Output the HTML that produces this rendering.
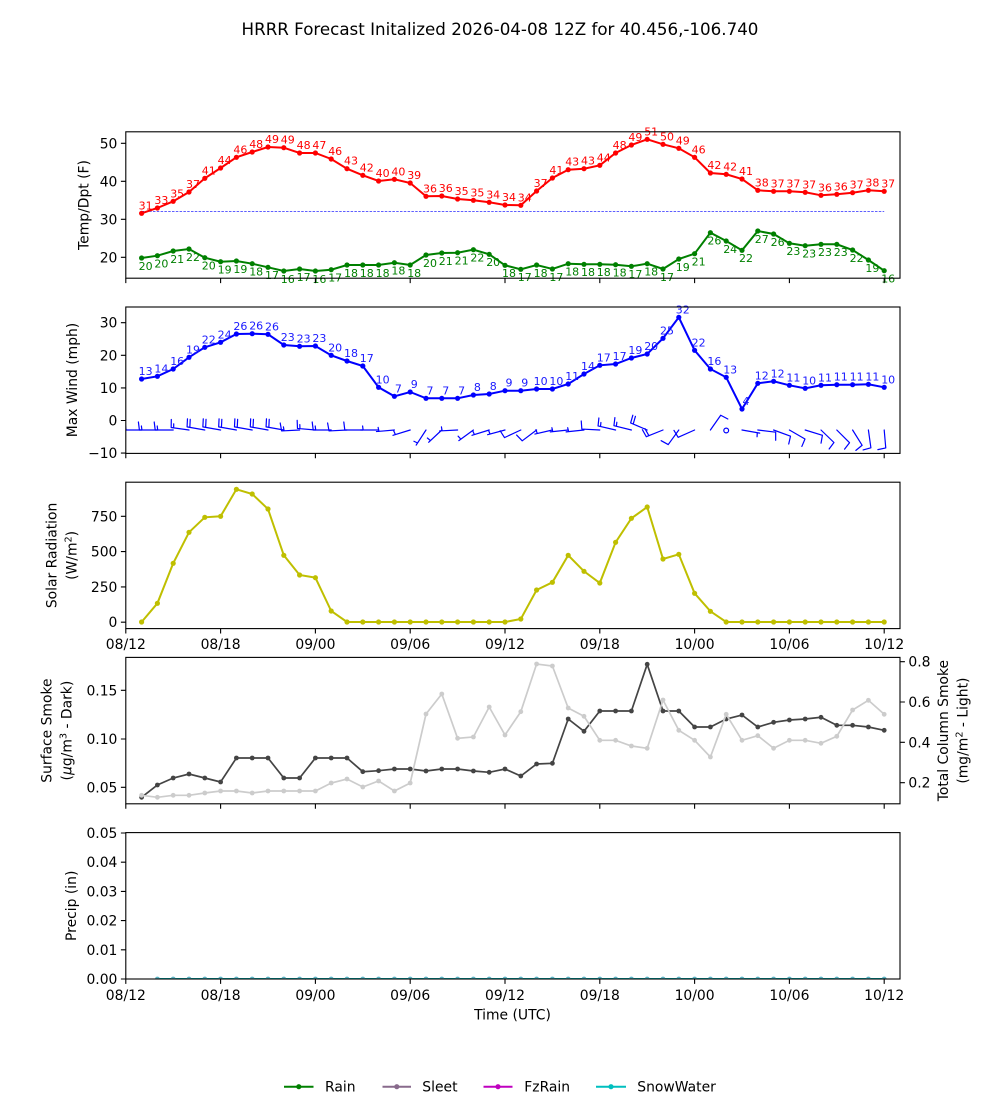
<!DOCTYPE html>
<html><head><meta charset="utf-8"><style>
html,body{margin:0;padding:0;background:#fff;}
svg{display:block;font-family:"DejaVu Sans","Liberation Sans",sans-serif;}
</style></head><body>
<svg width="1000" height="1100" viewBox="0 0 1000 1100" xmlns="http://www.w3.org/2000/svg">
<defs>
<marker id="mr" viewBox="-3 -3 6 6" markerWidth="6" markerHeight="6" markerUnits="userSpaceOnUse"><circle r="2.6" fill="#ff0000"/></marker>
<marker id="mg" viewBox="-3 -3 6 6" markerWidth="6" markerHeight="6" markerUnits="userSpaceOnUse"><circle r="2.6" fill="#008000"/></marker>
<marker id="mb" viewBox="-3 -3 6 6" markerWidth="6" markerHeight="6" markerUnits="userSpaceOnUse"><circle r="2.6" fill="#0000ff"/></marker>
<marker id="my" viewBox="-3 -3 6 6" markerWidth="6" markerHeight="6" markerUnits="userSpaceOnUse"><circle r="2.6" fill="#bfbf00"/></marker>
<marker id="md" viewBox="-3 -3 6 6" markerWidth="6" markerHeight="6" markerUnits="userSpaceOnUse"><circle r="2.4" fill="#444444"/></marker>
<marker id="ml" viewBox="-3 -3 6 6" markerWidth="6" markerHeight="6" markerUnits="userSpaceOnUse"><circle r="2.4" fill="#cccccc"/></marker>
<marker id="mc" viewBox="-3 -3 6 6" markerWidth="6" markerHeight="6" markerUnits="userSpaceOnUse"><circle r="2.4" fill="#5ab4c4"/></marker>
<clipPath id="c2"><rect x="125.8" y="307" width="774.2" height="146.4"/></clipPath>
<clipPath id="c5"><rect x="125.8" y="832.6" width="774.2" height="146.4"/></clipPath>
</defs>
<rect width="1000" height="1100" fill="#fff"/>

<text x="500" y="35" font-size="16.7" text-anchor="middle" fill="#000">HRRR Forecast Initalized 2026-04-08 12Z for 40.456,-106.740</text>

<!-- ================= PANEL 1 ================= -->
<line x1="141.6" y1="211.4" x2="884.2" y2="211.4" stroke="#2a2aff" stroke-width="0.8" stroke-dasharray="2.5,1.3"/>
<polyline fill="none" stroke="#ff0000" stroke-width="2" marker-start="url(#mr)" marker-mid="url(#mr)" marker-end="url(#mr)" points="141.6,213.3 157.4,208 173.2,201.3 189,192 204.8,178.3 220.6,168 236.4,157.3 252.2,152 268,147 283.8,147.7 299.6,153 315.4,153 331.2,159 347,168.7 362.8,175.3 378.6,181 394.4,179.3 410.2,183 426,196.3 441.8,196 457.6,199 473.4,200.3 489.2,202.3 505,205 520.8,205.3 536.6,191 552.4,178 568.2,169.7 584,168.7 599.8,165.3 615.6,153 631.4,145 647.2,139.3 663,144.3 678.8,148.3 694.6,157.3 710.4,173 726.2,174.3 742,179 757.8,190.3 773.6,191.3 789.4,191.3 805.2,192.3 821,195.3 836.8,194.3 852.6,192.7 868.4,190.3 884.2,191.3"/>
<polyline fill="none" stroke="#008000" stroke-width="2" marker-start="url(#mg)" marker-mid="url(#mg)" marker-end="url(#mg)" points="141.6,258 157.4,255.7 173.2,251 189,249 204.8,257.7 220.6,261.7 236.4,261 252.2,263.7 268,267.3 283.8,271 299.6,269 315.4,271 331.2,269.7 347,265 362.8,265 378.6,265 394.4,262.7 410.2,265 426,255 441.8,253 457.6,252.7 473.4,249.7 489.2,254.3 505,265.3 520.8,269.3 536.6,265 552.4,269 568.2,263.7 584,264.3 599.8,264.3 615.6,264.7 631.4,266.3 647.2,263.7 663,269 678.8,259 694.6,253.7 710.4,232.7 726.2,241 742,250.3 757.8,231 773.6,234 789.4,243.3 805.2,245.7 821,244.3 836.8,244.3 852.6,250 868.4,260 884.2,270.7"/>
<g font-size="11" fill="#ff0000" text-anchor="middle">
<text x="145.6" y="209.3">31</text><text x="161.4" y="204">33</text><text x="177.2" y="197.3">35</text><text x="193" y="188">37</text><text x="208.8" y="174.3">41</text><text x="224.6" y="164">44</text><text x="240.4" y="153.3">46</text><text x="256.2" y="148">48</text><text x="272" y="143">49</text><text x="287.8" y="143.7">49</text><text x="303.6" y="149">48</text><text x="319.4" y="149">47</text><text x="335.2" y="155">46</text><text x="351" y="164.7">43</text><text x="366.8" y="171.3">42</text><text x="382.6" y="177">40</text><text x="398.4" y="175.3">40</text><text x="414.2" y="179">39</text><text x="430" y="192.3">36</text><text x="445.8" y="192">36</text><text x="461.6" y="195">35</text><text x="477.4" y="196.3">35</text><text x="493.2" y="198.3">34</text><text x="509" y="201">34</text><text x="524.8" y="201.3">34</text><text x="540.6" y="187">37</text><text x="556.4" y="174">41</text><text x="572.2" y="165.7">43</text><text x="588" y="164.7">43</text><text x="603.8" y="161.3">44</text><text x="619.6" y="149">48</text><text x="635.4" y="141">49</text><text x="651.2" y="135.3">51</text><text x="667" y="140.3">50</text><text x="682.8" y="144.3">49</text><text x="698.6" y="153.3">46</text><text x="714.4" y="169">42</text><text x="730.2" y="170.3">42</text><text x="746" y="175">41</text><text x="761.8" y="186.3">38</text><text x="777.6" y="187.3">37</text><text x="793.4" y="187.3">37</text><text x="809.2" y="188.3">37</text><text x="825" y="191.3">36</text><text x="840.8" y="190.3">36</text><text x="856.6" y="188.7">37</text><text x="872.4" y="186.3">38</text><text x="888.2" y="187.3">37</text>
</g>
<g font-size="11" fill="#008000" text-anchor="middle">
<text x="145.6" y="269.8">20</text><text x="161.4" y="267.5">20</text><text x="177.2" y="262.8">21</text><text x="193" y="260.8">22</text><text x="208.8" y="269.5">20</text><text x="224.6" y="273.5">19</text><text x="240.4" y="272.8">19</text><text x="256.2" y="275.5">18</text><text x="272" y="279.1">17</text><text x="287.8" y="282.8">16</text><text x="303.6" y="280.8">17</text><text x="319.4" y="282.8">16</text><text x="335.2" y="281.5">17</text><text x="351" y="276.8">18</text><text x="366.8" y="276.8">18</text><text x="382.6" y="276.8">18</text><text x="398.4" y="274.5">18</text><text x="414.2" y="276.8">18</text><text x="430" y="266.8">20</text><text x="445.8" y="264.8">21</text><text x="461.6" y="264.5">21</text><text x="477.4" y="261.5">22</text><text x="493.2" y="266.1">20</text><text x="509" y="277.1">18</text><text x="524.8" y="281.1">17</text><text x="540.6" y="276.8">18</text><text x="556.4" y="280.8">17</text><text x="572.2" y="275.5">18</text><text x="588" y="276.1">18</text><text x="603.8" y="276.1">18</text><text x="619.6" y="276.5">18</text><text x="635.4" y="278.1">17</text><text x="651.2" y="275.5">18</text><text x="667" y="280.8">17</text><text x="682.8" y="270.8">19</text><text x="698.6" y="265.5">21</text><text x="714.4" y="244.5">26</text><text x="730.2" y="252.8">24</text><text x="746" y="262.1">22</text><text x="761.8" y="242.8">27</text><text x="777.6" y="245.8">26</text><text x="793.4" y="255.1">23</text><text x="809.2" y="257.5">23</text><text x="825" y="256.1">23</text><text x="840.8" y="256.1">23</text><text x="856.6" y="261.8">22</text><text x="872.4" y="271.8">19</text><text x="888.2" y="282.5">16</text>
</g>
<rect x="125.8" y="131.8" width="774.2" height="146.4" fill="none" stroke="#000" stroke-width="1.1"/>
<path stroke="#000" stroke-width="1.1" d="M125.8 278.2v4.9M220.6 278.2v4.9M315.4 278.2v4.9M410.2 278.2v4.9M505 278.2v4.9M599.8 278.2v4.9M694.6 278.2v4.9M789.4 278.2v4.9M884.2 278.2v4.9M120.9 257.3h4.9M120.9 219.3h4.9M120.9 181.3h4.9M120.9 143.3h4.9"/>
<g font-size="13.9" text-anchor="end" fill="#000">
<text x="117.4" y="262.3">20</text><text x="117.4" y="224.3">30</text><text x="117.4" y="186.3">40</text><text x="117.4" y="148.3">50</text>
</g>
<text transform="translate(88.6,205) rotate(-90)" font-size="13.9" text-anchor="middle">Temp/Dpt (F)</text>

<!-- ================= PANEL 2 ================= -->
<polyline fill="none" stroke="#0000ff" stroke-width="2" marker-start="url(#mb)" marker-mid="url(#mb)" marker-end="url(#mb)" points="141.6,379 157.4,376.3 173.2,369 189,357.3 204.8,347.3 220.6,342.3 236.4,334 252.2,333.7 268,334.3 283.8,345 299.6,346.3 315.4,346 331.2,355.3 347,361 362.8,366 378.6,387.3 394.4,396.3 410.2,392 426,398.3 441.8,398.3 457.6,398.3 473.4,395 489.2,394 505,390.7 520.8,390.7 536.6,389 552.4,389 568.2,384 584,374 599.8,365.3 615.6,364 631.4,358 647.2,354 663,338.3 678.8,317.3 694.6,350.3 710.4,369 726.2,377.3 742,409 757.8,383.3 773.6,381.3 789.4,385.3 805.2,388.3 821,385.3 836.8,384.7 852.6,384.7 868.4,384.3 884.2,387.3"/>
<g font-size="11" fill="#1a1aff" text-anchor="middle">
<text x="145.6" y="375">13</text><text x="161.4" y="372.3">14</text><text x="177.2" y="365">16</text><text x="193" y="353.3">19</text><text x="208.8" y="343.3">22</text><text x="224.6" y="338.3">24</text><text x="240.4" y="330">26</text><text x="256.2" y="329.7">26</text><text x="272" y="330.3">26</text><text x="287.8" y="341">23</text><text x="303.6" y="342.3">23</text><text x="319.4" y="342">23</text><text x="335.2" y="351.3">20</text><text x="351" y="357">18</text><text x="366.8" y="362">17</text><text x="382.6" y="383.3">10</text><text x="398.4" y="392.3">7</text><text x="414.2" y="388">9</text><text x="430" y="394.3">7</text><text x="445.8" y="394.3">7</text><text x="461.6" y="394.3">7</text><text x="477.4" y="391">8</text><text x="493.2" y="390">8</text><text x="509" y="386.7">9</text><text x="524.8" y="386.7">9</text><text x="540.6" y="385">10</text><text x="556.4" y="385">10</text><text x="572.2" y="380">11</text><text x="588" y="370">14</text><text x="603.8" y="361.3">17</text><text x="619.6" y="360">17</text><text x="635.4" y="354">19</text><text x="651.2" y="350">20</text><text x="667" y="334.3">25</text><text x="682.8" y="313.3">32</text><text x="698.6" y="346.3">22</text><text x="714.4" y="365">16</text><text x="730.2" y="373.3">13</text><text x="746" y="405">4</text><text x="761.8" y="379.3">12</text><text x="777.6" y="377.3">12</text><text x="793.4" y="381.3">11</text><text x="809.2" y="384.3">10</text><text x="825" y="381.3">11</text><text x="840.8" y="380.7">11</text><text x="856.6" y="380.7">11</text><text x="872.4" y="380.3">11</text><text x="888.2" y="383.3">10</text>
</g>
<g clip-path="url(#c2)" fill="none" stroke="#0000ff" stroke-width="1.2" stroke-linecap="round">
<path transform="translate(141.6,430) rotate(0)" d="M0 0H-18M-18 0L-19 -8M-15.5 0L-16 -4"/>
<path transform="translate(157.4,430) rotate(0)" d="M0 0H-18M-18 0L-19 -8M-15.5 0L-16 -4"/>
<path transform="translate(173.2,430) rotate(0)" d="M0 0H-18M-18 0L-19 -8M-15.5 0L-16 -4"/>
<path transform="translate(189,430) rotate(8)" d="M0 0H-18M-18 0L-19 -8M-15.5 0L-16 -4"/>
<path transform="translate(204.8,430) rotate(10)" d="M0 0H-18M-18 0L-19 -8M-15.2 0L-16.2 -8"/>
<path transform="translate(220.6,430) rotate(10)" d="M0 0H-18M-18 0L-19 -8M-15.2 0L-16.2 -8"/>
<path transform="translate(236.4,430) rotate(10)" d="M0 0H-18M-18 0L-19 -8M-15.2 0L-16.2 -8"/>
<path transform="translate(252.2,430) rotate(10)" d="M0 0H-18M-18 0L-19 -8M-15.2 0L-16.2 -8"/>
<path transform="translate(268,430) rotate(10)" d="M0 0H-18M-18 0L-19 -8M-15.2 0L-16.2 -8"/>
<path transform="translate(283.8,430) rotate(10)" d="M0 0H-18M-18 0L-19 -8M-15.2 0L-16.2 -8"/>
<path transform="translate(299.6,430) rotate(-3)" d="M0 0H-18M-18 0L-19 -8M-15.5 0L-16 -4"/>
<path transform="translate(315.4,430) rotate(5)" d="M0 0H-18M-18 0L-19 -8M-15.5 0L-16 -4"/>
<path transform="translate(331.2,430) rotate(0)" d="M0 0H-18M-18 0L-19 -8M-15.5 0L-16 -4"/>
<path transform="translate(347,430) rotate(-3)" d="M0 0H-18M-18 0L-19 -8"/>
<path transform="translate(362.8,430) rotate(0)" d="M0 0H-18M-18 0L-19 -8"/>
<path transform="translate(378.6,430) rotate(0)" d="M0 0H-18M-15.5 0L-16 -4"/>
<path transform="translate(394.4,430) rotate(-5)" d="M0 0H-18M-15.5 0L-16 -4"/>
<path transform="translate(410.2,430) rotate(-17)" d="M0 0H-18M-15.5 0L-16 -4"/>
<path transform="translate(426,430) rotate(-57)" d="M0 0H-18M-15.5 0L-16 -4"/>
<path transform="translate(441.8,430) rotate(-43)" d="M0 0H-18M-15.5 0L-16 -4"/>
<path transform="translate(457.6,430) rotate(-3)" d="M0 0H-18M-15.5 0L-16 -4"/>
<path transform="translate(473.4,430) rotate(-36)" d="M0 0H-18M-15.5 0L-16 -4"/>
<path transform="translate(489.2,430) rotate(-17)" d="M0 0H-18M-15.5 0L-16 -4"/>
<path transform="translate(505,430) rotate(-15)" d="M0 0H-18M-15.5 0L-16 -4"/>
<path transform="translate(520.8,430) rotate(-25)" d="M0 0H-18M-18 0L-19 -8"/>
<path transform="translate(536.6,430) rotate(-37)" d="M0 0H-18M-18 0L-19 -8"/>
<path transform="translate(552.4,430) rotate(-13)" d="M0 0H-18M-15.5 0L-16 -4"/>
<path transform="translate(568.2,430) rotate(-6)" d="M0 0H-18M-15.5 0L-16 -4"/>
<path transform="translate(584,430) rotate(-6)" d="M0 0H-18M-15.5 0L-16 -4"/>
<path transform="translate(599.8,430) rotate(3)" d="M0 0H-18M-18 0L-19 -8"/>
<path transform="translate(615.6,430) rotate(13)" d="M0 0H-18M-18 0L-19 -8M-15.5 0L-16 -4"/>
<path transform="translate(631.4,430) rotate(14)" d="M0 0H-18M-18 0L-19 -8M-15.5 0L-16 -4"/>
<path transform="translate(647.2,430) rotate(23)" d="M0 0H-18M-18 0L-19 -8M-15.2 0L-16.2 -8"/>
<path transform="translate(663,430) rotate(-22)" d="M0 0H-18M-18 0L-19 -8M-15.2 0L-16.2 -8"/>
<path transform="translate(678.8,430) rotate(-54)" d="M0 0H-18M-18 0L-19 -8"/>
<path transform="translate(694.6,430) rotate(-24)" d="M0 0H-18M-18 0L-19 -8"/>
<path transform="translate(710.4,430) rotate(125)" d="M0 0H-18M-18 0L-19 -8"/>
<circle cx="726.2" cy="430.5" r="2.4"/>
<path transform="translate(742,430) rotate(-170)" d="M0 0H-18M-15.5 0L-16 -4"/>
<path transform="translate(757.8,430) rotate(-173)" d="M0 0H-18M-18 0L-19 -8"/>
<path transform="translate(773.6,430) rotate(-160)" d="M0 0H-18M-18 0L-19 -8"/>
<path transform="translate(789.4,430) rotate(-150)" d="M0 0H-18M-18 0L-19 -8"/>
<path transform="translate(805.2,430) rotate(-163)" d="M0 0H-18M-18 0L-19 -8"/>
<path transform="translate(821,430) rotate(-136)" d="M0 0H-18M-18 0L-19 -8"/>
<path transform="translate(836.8,430) rotate(-135)" d="M0 0H-18M-18 0L-19 -8"/>
<path transform="translate(852.6,430) rotate(-122)" d="M0 0H-18M-18 0L-19 -8"/>
<path transform="translate(868.4,430) rotate(-98)" d="M0 0H-18M-18 0L-19 -8"/>
<path transform="translate(884.2,430) rotate(-95)" d="M0 0H-18M-18 0L-19 -8"/>
</g>
<rect x="125.8" y="307" width="774.2" height="146.4" fill="none" stroke="#000" stroke-width="1.1"/>
<path stroke="#000" stroke-width="1.1" d="M125.8 453.4v4.9M220.6 453.4v4.9M315.4 453.4v4.9M410.2 453.4v4.9M505 453.4v4.9M599.8 453.4v4.9M694.6 453.4v4.9M789.4 453.4v4.9M884.2 453.4v4.9M120.9 322.7h4.9M120.9 355.3h4.9M120.9 387.9h4.9M120.9 420.5h4.9M120.9 453.1h4.9"/>
<g font-size="13.9" text-anchor="end" fill="#000">
<text x="117.4" y="327.7">30</text><text x="117.4" y="360.3">20</text><text x="117.4" y="392.9">10</text><text x="117.4" y="425.5">0</text><text x="117.4" y="458.1">−10</text>
</g>
<text transform="translate(77,380) rotate(-90)" font-size="13.9" text-anchor="middle">Max Wind (mph)</text>

<!-- ================= PANEL 3 ================= -->
<polyline fill="none" stroke="#bfbf00" stroke-width="2" marker-start="url(#my)" marker-mid="url(#my)" marker-end="url(#my)" points="141.6,622 157.4,603.3 173.2,563.3 189,532.3 204.8,517.3 220.6,516.3 236.4,489.3 252.2,494 268,509 283.8,555.3 299.6,575 315.4,577.7 331.2,611 347,622 362.8,622 378.6,622 394.4,622 410.2,622 426,622 441.8,622 457.6,622 473.4,622 489.2,622 505,622 520.8,619 536.6,590 552.4,582.3 568.2,555.3 584,571.3 599.8,583 615.6,542.3 631.4,518.3 647.2,507 663,559 678.8,554.3 694.6,593.3 710.4,611.3 726.2,622 742,622 757.8,622 773.6,622 789.4,622 805.2,622 821,622 836.8,622 852.6,622 868.4,622 884.2,622"/>
<rect x="125.8" y="482.2" width="774.2" height="146.4" fill="none" stroke="#000" stroke-width="1.1"/>
<path stroke="#000" stroke-width="1.1" d="M125.8 628.6v4.9M220.6 628.6v4.9M315.4 628.6v4.9M410.2 628.6v4.9M505 628.6v4.9M599.8 628.6v4.9M694.6 628.6v4.9M789.4 628.6v4.9M884.2 628.6v4.9M120.9 622.2h4.9M120.9 586.9h4.9M120.9 551.6h4.9M120.9 516.3h4.9"/>
<g font-size="13.9" text-anchor="end" fill="#000">
<text x="117.4" y="627.2">0</text><text x="117.4" y="591.9">250</text><text x="117.4" y="556.6">500</text><text x="117.4" y="521.3">750</text>
</g>
<g font-size="13.9" text-anchor="middle" fill="#000">
<text x="125.8" y="649">08/12</text><text x="220.6" y="649">08/18</text><text x="315.4" y="649">09/00</text><text x="410.2" y="649">09/06</text><text x="505" y="649">09/12</text><text x="599.8" y="649">09/18</text><text x="694.6" y="649">10/00</text><text x="789.4" y="649">10/06</text><text x="884.2" y="649">10/12</text>
</g>
<text transform="translate(56.5,555.4) rotate(-90)" font-size="13.9" text-anchor="middle">Solar Radiation</text>
<text transform="translate(76.5,555.4) rotate(-90)" font-size="13.9" text-anchor="middle">(W/m<tspan dy="-5" font-size="9.7">2</tspan><tspan dy="5">)</tspan></text>

<!-- ================= PANEL 4 ================= -->
<polyline fill="none" stroke="#444444" stroke-width="1.7" marker-start="url(#md)" marker-mid="url(#md)" marker-end="url(#md)" points="141.6,797.3 157.4,785 173.2,778 189,774 204.8,778 220.6,782 236.4,758 252.2,758 268,758 283.8,778 299.6,778 315.4,758 331.2,758 347,758 362.8,771.7 378.6,770.7 394.4,769 410.2,769 426,771 441.8,769 457.6,769 473.4,771 489.2,772.3 505,769 520.8,776 536.6,764 552.4,763.3 568.2,719 584,731.3 599.8,711 615.6,711 631.4,711 647.2,664.3 663,711 678.8,711 694.6,727 710.4,727 726.2,719 742,715 757.8,727 773.6,722.3 789.4,720 805.2,719 821,717.3 836.8,725.3 852.6,725.3 868.4,727 884.2,730.3"/>
<polyline fill="none" stroke="#cccccc" stroke-width="1.7" marker-start="url(#ml)" marker-mid="url(#ml)" marker-end="url(#ml)" points="141.6,795.3 157.4,797.3 173.2,795.3 189,795.3 204.8,793 220.6,791 236.4,791 252.2,793 268,791 283.8,791 299.6,791 315.4,791 331.2,783 347,779 362.8,787 378.6,781 394.4,791 410.2,783 426,714 441.8,694 457.6,738.3 473.4,737 489.2,707 505,735 520.8,711.7 536.6,664 552.4,666 568.2,708 584,716.3 599.8,740.3 615.6,740.3 631.4,746 647.2,748.3 663,700 678.8,730.3 694.6,740.3 710.4,757 726.2,714.3 742,740.3 757.8,735.7 773.6,748.3 789.4,740.3 805.2,740.3 821,743.3 836.8,736.3 852.6,710 868.4,700.3 884.2,714.3"/>
<rect x="125.8" y="657.4" width="774.2" height="146.4" fill="none" stroke="#000" stroke-width="1.1"/>
<path stroke="#000" stroke-width="1.1" d="M125.8 803.8v4.9M220.6 803.8v4.9M315.4 803.8v4.9M410.2 803.8v4.9M505 803.8v4.9M599.8 803.8v4.9M694.6 803.8v4.9M789.4 803.8v4.9M884.2 803.8v4.9M120.9 787.3h4.9M120.9 739h4.9M120.9 690.3h4.9M900 782.7h4.9M900 742.3h4.9M900 702h4.9M900 661.7h4.9"/>
<g font-size="13.9" text-anchor="end" fill="#000">
<text x="117.4" y="792.3">0.05</text><text x="117.4" y="744">0.10</text><text x="117.4" y="695.3">0.15</text>
</g>
<g font-size="13.9" text-anchor="start" fill="#000">
<text x="908.4" y="787.7">0.2</text><text x="908.4" y="747.3">0.4</text><text x="908.4" y="707">0.6</text><text x="908.4" y="666.7">0.8</text>
</g>
<text transform="translate(51.7,730.6) rotate(-90)" font-size="13.9" text-anchor="middle">Surface Smoke</text>
<text transform="translate(71.5,730.6) rotate(-90)" font-size="13.9" text-anchor="middle">(<tspan font-style="italic">μ</tspan>g/m<tspan dy="-5" font-size="9.7">3</tspan><tspan dy="5"> - Dark)</tspan></text>
<text transform="translate(948,730.6) rotate(-90)" font-size="13.9" text-anchor="middle">Total Column Smoke</text>
<text transform="translate(967.5,730.6) rotate(-90)" font-size="13.9" text-anchor="middle">(mg/m<tspan dy="-5" font-size="9.7">2</tspan><tspan dy="5"> - Light)</tspan></text>

<!-- ================= PANEL 5 ================= -->
<g clip-path="url(#c5)">
<polyline fill="none" stroke="#00bfbf" stroke-width="2" marker-start="url(#mc)" marker-mid="url(#mc)" marker-end="url(#mc)" points="157.4,979 173.2,979 189,979 204.8,979 220.6,979 236.4,979 252.2,979 268,979 283.8,979 299.6,979 315.4,979 331.2,979 347,979 362.8,979 378.6,979 394.4,979 410.2,979 426,979 441.8,979 457.6,979 473.4,979 489.2,979 505,979 520.8,979 536.6,979 552.4,979 568.2,979 584,979 599.8,979 615.6,979 631.4,979 647.2,979 663,979 678.8,979 694.6,979 710.4,979 726.2,979 742,979 757.8,979 773.6,979 789.4,979 805.2,979 821,979 836.8,979 852.6,979 868.4,979 884.2,979"/>
</g>
<rect x="125.8" y="832.6" width="774.2" height="146.4" fill="none" stroke="#000" stroke-width="1.1"/>
<path stroke="#000" stroke-width="1.1" d="M125.8 979v4.9M220.6 979v4.9M315.4 979v4.9M410.2 979v4.9M505 979v4.9M599.8 979v4.9M694.6 979v4.9M789.4 979v4.9M884.2 979v4.9M120.9 979h4.9M120.9 949.8h4.9M120.9 920.6h4.9M120.9 891.4h4.9M120.9 862.2h4.9M120.9 833h4.9"/>
<g font-size="13.9" text-anchor="end" fill="#000">
<text x="117.4" y="984">0.00</text><text x="117.4" y="954.8">0.01</text><text x="117.4" y="925.6">0.02</text><text x="117.4" y="896.4">0.03</text><text x="117.4" y="867.2">0.04</text><text x="117.4" y="838">0.05</text>
</g>
<g font-size="13.9" text-anchor="middle" fill="#000">
<text x="125.8" y="1000">08/12</text><text x="220.6" y="1000">08/18</text><text x="315.4" y="1000">09/00</text><text x="410.2" y="1000">09/06</text><text x="505" y="1000">09/12</text><text x="599.8" y="1000">09/18</text><text x="694.6" y="1000">10/00</text><text x="789.4" y="1000">10/06</text><text x="884.2" y="1000">10/12</text>
</g>
<text x="512.5" y="1019.5" font-size="13.9" text-anchor="middle">Time (UTC)</text>
<text transform="translate(76,905.8) rotate(-90)" font-size="13.9" text-anchor="middle">Precip (in)</text>

<!-- ================= LEGEND ================= -->
<g stroke-width="2">
<line x1="284" y1="1086.7" x2="313.5" y2="1086.7" stroke="#008000"/>
<line x1="382.5" y1="1086.7" x2="411" y2="1086.7" stroke="#886a8c"/>
<line x1="483.5" y1="1086.7" x2="512.5" y2="1086.7" stroke="#bf00bf"/>
<line x1="596" y1="1086.7" x2="626" y2="1086.7" stroke="#00bfbf"/>
</g>
<circle cx="298.8" cy="1086.7" r="2.6" fill="#008000"/>
<circle cx="396.8" cy="1086.7" r="2.6" fill="#886a8c"/>
<circle cx="498" cy="1086.7" r="2.6" fill="#bf00bf"/>
<circle cx="611" cy="1086.7" r="2.6" fill="#00bfbf"/>
<g font-size="13.9" fill="#000">
<text x="325" y="1091.7">Rain</text>
<text x="422.3" y="1091.7">Sleet</text>
<text x="524.3" y="1091.7">FzRain</text>
<text x="637.3" y="1091.7">SnowWater</text>
</g>
</svg>
</body></html>
